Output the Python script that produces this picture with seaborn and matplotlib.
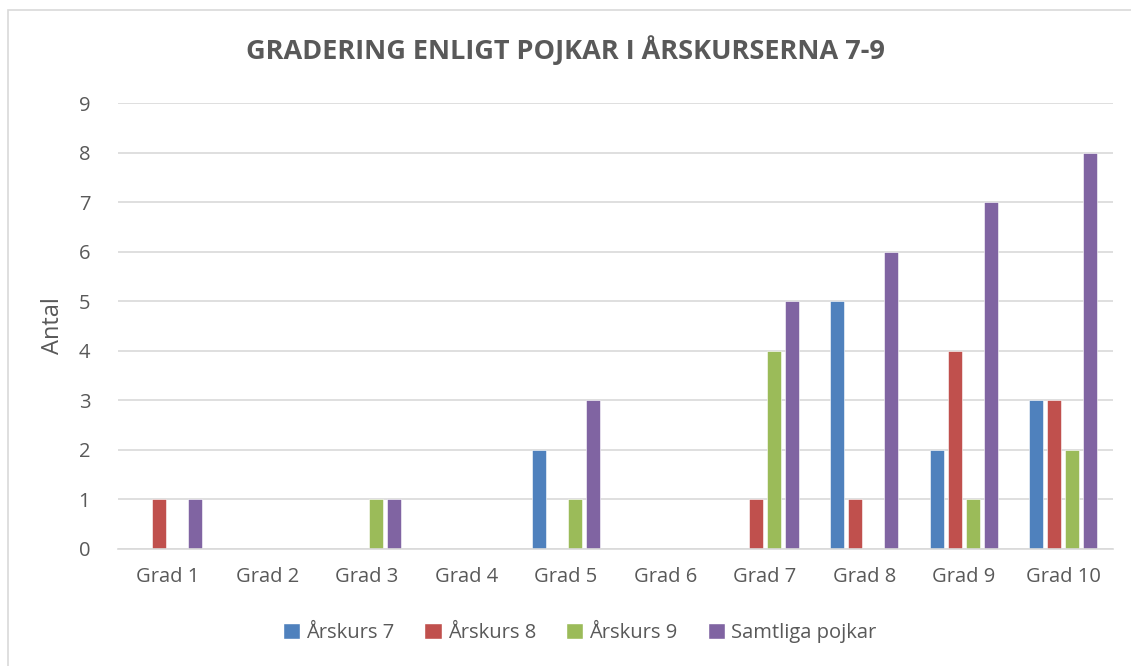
import pandas as pd
import matplotlib.pyplot as plt
import seaborn as sns
from matplotlib.patches import Rectangle

# data
grades = ["Grad 1", "Grad 2", "Grad 3", "Grad 4", "Grad 5",
          "Grad 6", "Grad 7", "Grad 8", "Grad 9", "Grad 10"]
series_names = ["Årskurs 7", "Årskurs 8", "Årskurs 9", "Samtliga pojkar"]
arskurs7 = [0, 0, 0, 0, 2, 0, 0, 5, 2, 3]
arskurs8 = [1, 0, 0, 0, 0, 0, 1, 1, 4, 3]
arskurs9 = [0, 0, 1, 0, 1, 0, 4, 0, 1, 2]
samtliga = [1, 0, 1, 0, 3, 0, 5, 6, 7, 8]
colors = ["#4F81BD", "#C0504D", "#9BBB59", "#8064A2"]

rows = []
for name, vals in zip(series_names, [arskurs7, arskurs8, arskurs9, samtliga]):
    for g, v in zip(grades, vals):
        rows.append({"Grad": g, "Serie": name, "Antal": v})
df = pd.DataFrame(rows)

sns.set_style("white")
plt.rcParams['font.family'] = ['Open Sans', 'DejaVu Sans']
text_col = "#595959"

fig = plt.figure(figsize=(11.31, 6.66), dpi=100)
ax = fig.add_axes([118 / 1131, 1 - 549 / 666, (1113 - 118) / 1131, (549 - 103) / 666])

sns.barplot(data=df, x="Grad", y="Antal", hue="Serie", palette=colors,
            order=grades, hue_order=series_names, width=0.72, ax=ax,
            legend=True, errorbar=None, saturation=1)

# shrink bars a little so there is a gap between them, like Excel
for p in ax.patches:
    w = p.get_width()
    if w > 0:
        nw = w * 14 / 18
        p.set_x(p.get_x() + (w - nw) / 2)
        p.set_width(nw)
        p.set_edgecolor("white")
        p.set_linewidth(0.4)

ax.set_ylim(0, 9)
ax.set_xlim(-0.5, len(grades) - 0.5)
ax.set_yticks(range(0, 10))
ax.yaxis.grid(True, color="#D9D9D9", linewidth=1.2)
ax.set_axisbelow(True)
for s in ["top", "right", "left"]:
    ax.spines[s].set_visible(False)
ax.spines["bottom"].set_color("#D9D9D9")
ax.spines["bottom"].set_linewidth(1.2)
ax.tick_params(axis="both", length=0, labelsize=14.5, colors=text_col)
ax.tick_params(axis="x", pad=13)
ax.tick_params(axis="y", pad=20)
ax.set_xlabel("")
ax.set_ylabel("Antal", fontsize=17, color=text_col, labelpad=10)

fig.text(0.5, 1 - 50 / 666, "GRADERING ENLIGT POJKAR I ÅRSKURSERNA 7-9",
         ha="center", va="center", fontsize=19.5, fontweight="bold", color=text_col)

ax.legend(loc="center", bbox_to_anchor=(0.5 + (579 - 615) / 995, (549 - 633) / 446),
          ncol=4, frameon=False, fontsize=14.5, handlelength=0.85, handleheight=0.85,
          handletextpad=0.3, columnspacing=1.5, labelcolor=text_col)

fig.patches.append(Rectangle((8 / 1131, -0.1), 1.2, 1 - 10 / 666 + 0.1,
                             transform=fig.transFigure, fill=False,
                             edgecolor="#D9D9D9", linewidth=1.2))

fig.savefig("out.png", dpi=100)
